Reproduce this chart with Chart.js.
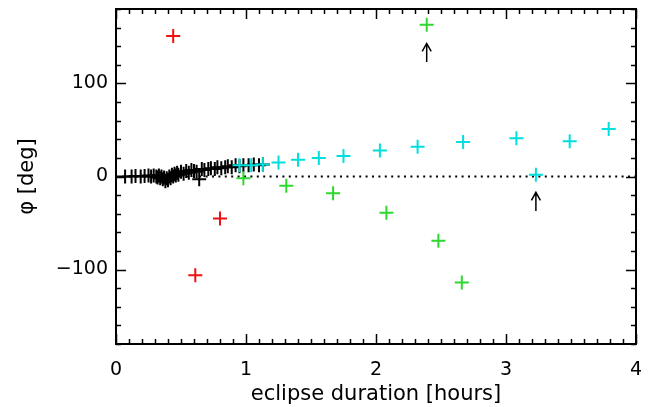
<!DOCTYPE html>
<html>
<head>
<meta charset="utf-8">
<script src="https://cdn.jsdelivr.net/npm/chart.js@4.4.1/dist/chart.umd.min.js"></script>
<style>
  html, body { margin: 0; padding: 0; background: #fff; }
  #wrap { width: 648px; height: 407px; }
</style>
</head>
<body>
<div id="wrap"><canvas id="c" width="648" height="407"></canvas></div>
<script>
// ---- data ----
const xTicks = [0, 1, 2, 3, 4];
const yTicks = [-100, 0, 100];

const blackX = [0.07, 0.12, 0.15, 0.19, 0.22, 0.25, 0.27, 0.29, 0.31, 0.32, 0.33, 0.34, 0.35, 0.36, 0.37, 0.38, 0.39, 0.40, 0.41, 0.42, 0.43, 0.44, 0.45, 0.46, 0.47, 0.48, 0.50, 0.52, 0.54, 0.56, 0.58, 0.60, 0.62, 0.64, 0.66, 0.68, 0.71, 0.73, 0.76, 0.78, 0.81, 0.84, 0.86, 0.89, 0.92, 0.95, 0.98, 1.02, 1.06, 1.10, 1.13];
const blackY = [0, 0, 0.5, 0, 0.5, 1, 0, 1, 0, -1, 1, -2, 0, -3, -1, -5, -2, -4, 0, -2, 2, 0, 3, 1, 4, 2, 5, 3, 6, 4, 7, 6, 5, -3, 8, 7, 8, 9, 8, 10, 9, 10, 11, 10, 12, 11, 12, 12, 13, 12, 13];

const cyanX = [0.95, 1.04, 1.13, 1.25, 1.40, 1.56, 1.75, 2.03, 2.32, 2.67, 3.08, 3.23, 3.49, 3.79];
const cyanY = [12, 12, 13, 15, 18, 20, 22, 28, 32, 37, 41, 2, 38, 51];

const greenX = [0.98, 1.31, 1.67, 2.08, 2.48, 2.66, 2.39];
const greenY = [-2, -10, -18, -39, -69, -114, 163];

const redX = [0.44, 0.61, 0.80];
const redY = [151, -106, -45];

// arrows: x position, tail value, tip value
const arrowX = [2.39, 3.23];
const arrowTail = [123, -37];
const arrowTip = [143, -17];

const toPts = (xs, ys) => xs.map((x, i) => ({ x: x, y: ys[i] }));

const FONT = 'DejaVu Sans';

const framePlugin = {
  id: 'frame',
  afterDraw(chart) {
    const ctx = chart.ctx;
    const a = chart.chartArea;
    const sx = chart.scales.x, sy = chart.scales.y;
    ctx.save();
    ctx.strokeStyle = '#000';
    ctx.lineWidth = 1.5;
    for (let i = 0; i <= 40; i++) {
      const v = i / 10;
      const px = Math.round(sx.getPixelForValue(v)) + 0.5;
      const len = (i % 10 === 0) ? 10 : 5;
      ctx.beginPath();
      ctx.moveTo(px, a.bottom); ctx.lineTo(px, a.bottom - len);
      ctx.moveTo(px, a.top); ctx.lineTo(px, a.top + len);
      ctx.stroke();
    }
    for (let v = -180; v <= 180; v += 20) {
      const py = Math.round(sy.getPixelForValue(v)) + 0.5;
      const len = (v % 100 === 0) ? 10 : 5;
      ctx.beginPath();
      ctx.moveTo(a.left, py); ctx.lineTo(a.left + len, py);
      ctx.moveTo(a.right, py); ctx.lineTo(a.right - len, py);
      ctx.stroke();
    }
    ctx.lineWidth = 2;
    ctx.strokeRect(a.left, a.top, a.right - a.left, a.bottom - a.top);
    ctx.restore();
  },
  afterDatasetsDraw(chart) {
    const ctx = chart.ctx;
    const sx = chart.scales.x, sy = chart.scales.y;
    ctx.save();
    ctx.strokeStyle = '#000';
    ctx.lineWidth = 1.5;
    for (let i = 0; i < arrowX.length; i++) {
      const px = sx.getPixelForValue(arrowX[i]);
      const y0 = sy.getPixelForValue(arrowTail[i]);
      const y1 = sy.getPixelForValue(arrowTip[i]);
      ctx.beginPath();
      ctx.moveTo(px, y0); ctx.lineTo(px, y1);
      ctx.moveTo(px - 4.5, y1 + 8); ctx.lineTo(px, y1); ctx.lineTo(px + 4.5, y1 + 8);
      ctx.stroke();
    }
    ctx.restore();
  }
};

const crossDs = (label, pts, color) => ({
  label: label,
  type: 'scatter',
  data: pts,
  pointStyle: 'cross',
  pointRadius: 7,
  pointHoverRadius: 7,
  borderColor: color,
  backgroundColor: color,
  pointBorderWidth: 2,
  borderWidth: 2,
  showLine: false
});

new Chart(document.getElementById('c'), {
  type: 'scatter',
  data: {
    datasets: [
      crossDs('red', toPts(redX, redY), '#ee1111'),
      crossDs('green', toPts(greenX, greenY), '#2ed82e'),
      crossDs('cyan', toPts(cyanX, cyanY), '#00dede'),
      crossDs('black', toPts(blackX, blackY), '#000000'),
      {
        label: 'zero',
        type: 'line',
        data: [{ x: 0, y: 0 }, { x: 4, y: 0 }],
        borderColor: '#000',
        borderWidth: 2,
        borderDash: [2, 4.4],
        pointRadius: 0,
        fill: false
      }
    ]
  },
  options: {
    responsive: false,
    animation: false,
    devicePixelRatio: 1,
    layout: { padding: { left: 0, right: 12, top: 8, bottom: 0 } },
    plugins: { legend: { display: false }, tooltip: { enabled: false } },
    scales: {
      x: {
        type: 'linear',
        min: 0, max: 4,
        grid: { display: false, drawTicks: false },
        border: { display: false },
        afterBuildTicks(s) { s.ticks = xTicks.map(v => ({ value: v })); },
        afterFit(s) { s.height = 63; s.paddingLeft = 0; s.paddingRight = 0; },
        ticks: {
          color: '#000',
          font: { family: FONT, size: 19 },
          padding: 15,
          maxRotation: 0,
          autoSkip: false,
          callback: v => String(v)
        },
        title: {
          display: true,
          text: 'eclipse duration [hours]',
          color: '#000',
          font: { family: FONT, size: 21 },
          padding: { top: 0, bottom: 0 }
        }
      },
      y: {
        type: 'linear',
        min: -180, max: 180,
        grid: { display: false, drawTicks: false },
        border: { display: false },
        afterBuildTicks(s) { s.ticks = yTicks.map(v => ({ value: v })); },
        afterFit(s) { s.width = 116; s.paddingTop = 0; s.paddingBottom = 0; },
        ticks: {
          color: '#000',
          font: { family: FONT, size: 19 },
          padding: 8,
          autoSkip: false,
          callback: v => (v < 0 ? '\u2212' + Math.abs(v) : String(v))
        },
        title: {
          display: true,
          text: '\u03C6 [deg]',
          color: '#000',
          font: { family: FONT, size: 21 },
          padding: { top: 15, bottom: 0 }
        }
      }
    }
  },
  plugins: [framePlugin]
});
</script>
</body>
</html>
